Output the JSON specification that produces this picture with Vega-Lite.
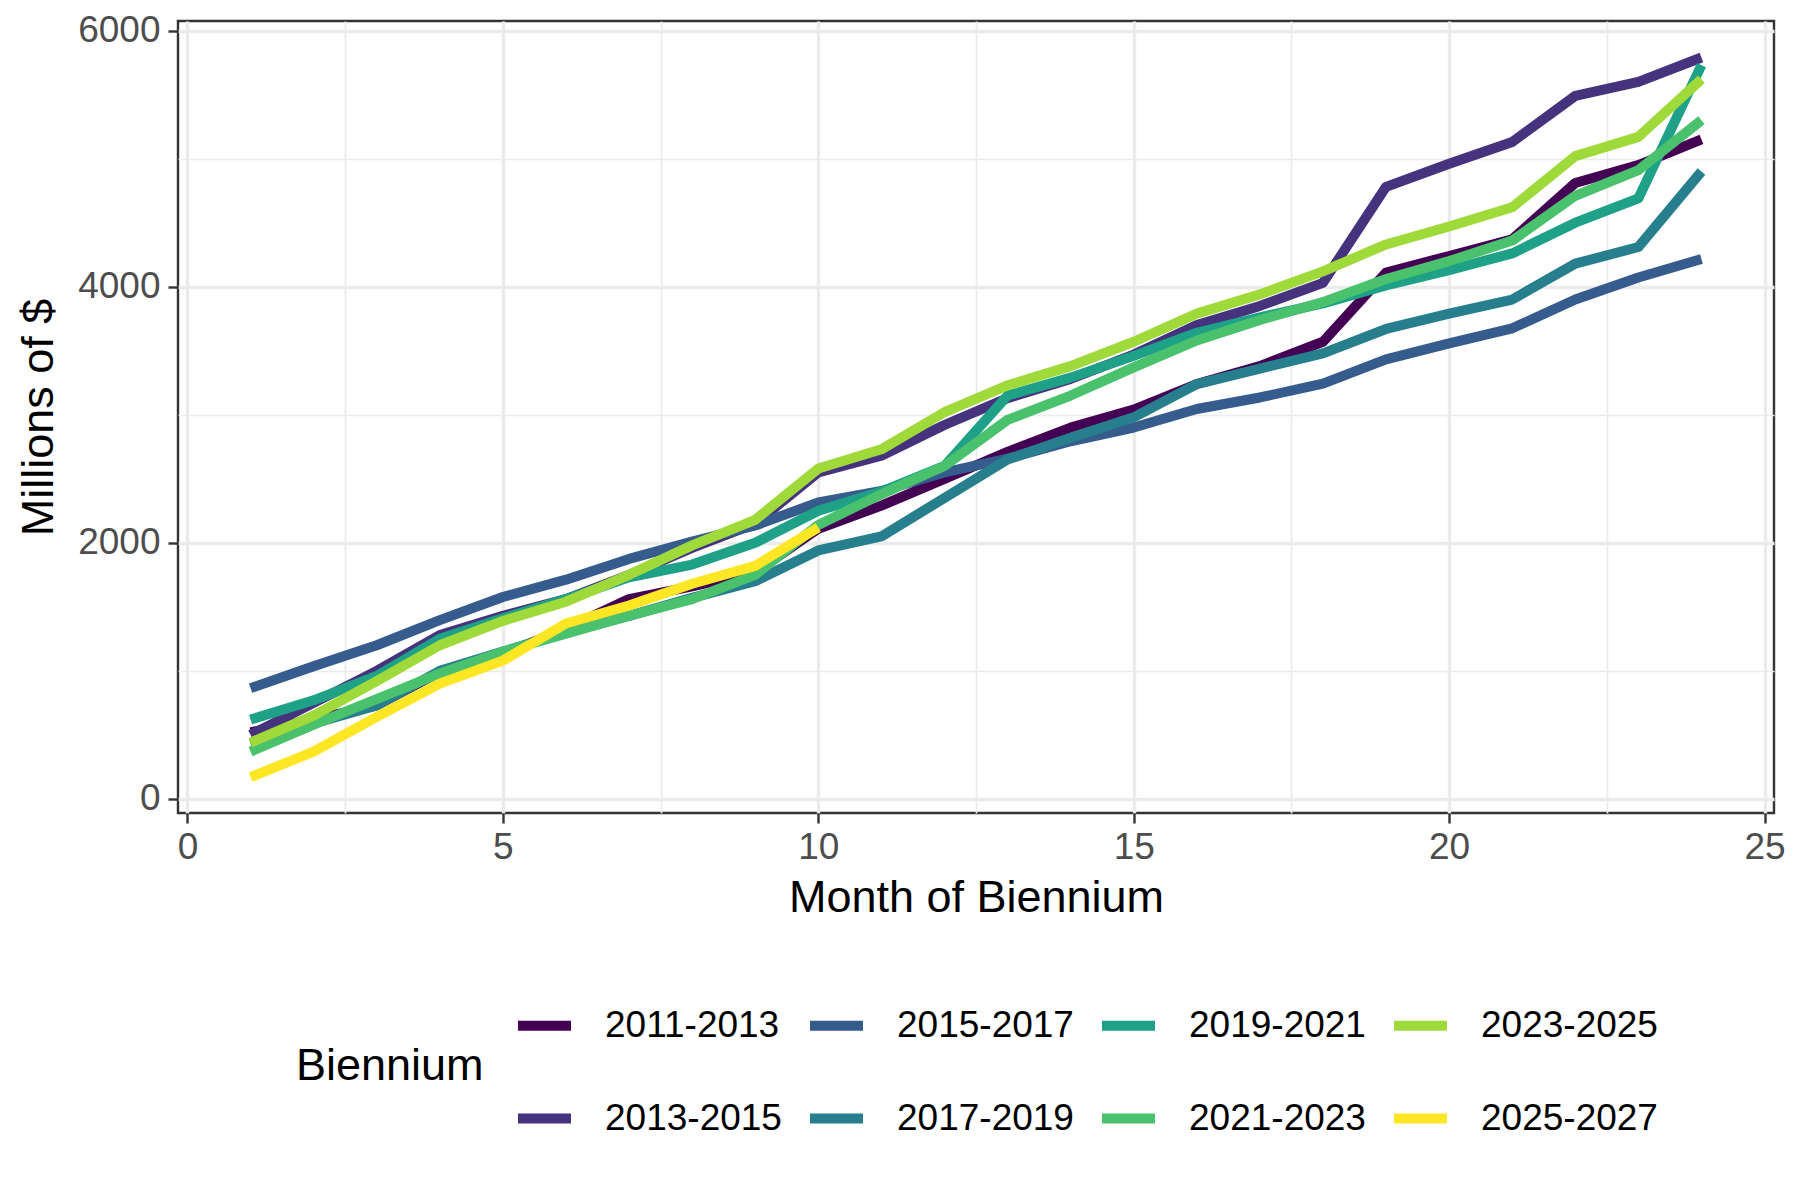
{
  "$schema": "https://vega.github.io/schema/vega-lite/v6.json",
  "width": 1596,
  "height": 792,
  "autosize": {"type": "none"},
  "padding": {"left": 178, "top": 21, "right": 26, "bottom": 387},
  "background": "white",
  "config": {
    "font": "Liberation Sans",
    "view": {"stroke": "#333333", "strokeWidth": 2.4},
    "axis": {
      "domain": false,
      "gridColor": "#EBEBEB",
      "tickColor": "#333333",
      "tickWidth": 2.4,
      "tickSize": 10,
      "labelColor": "#4D4D4D",
      "labelFontSize": 37,
      "titleFontSize": 45,
      "titleFontWeight": "normal",
      "titleColor": "black"
    }
  },
  "data": {
    "values": [
      {"month": 1, "Biennium": "2011-2013", "value": 520},
      {"month": 2, "Biennium": "2011-2013", "value": 620},
      {"month": 3, "Biennium": "2011-2013", "value": 730},
      {"month": 4, "Biennium": "2011-2013", "value": 990},
      {"month": 5, "Biennium": "2011-2013", "value": 1130},
      {"month": 6, "Biennium": "2011-2013", "value": 1330},
      {"month": 7, "Biennium": "2011-2013", "value": 1560},
      {"month": 8, "Biennium": "2011-2013", "value": 1660},
      {"month": 9, "Biennium": "2011-2013", "value": 1770},
      {"month": 10, "Biennium": "2011-2013", "value": 2110},
      {"month": 11, "Biennium": "2011-2013", "value": 2290},
      {"month": 12, "Biennium": "2011-2013", "value": 2500},
      {"month": 13, "Biennium": "2011-2013", "value": 2710},
      {"month": 14, "Biennium": "2011-2013", "value": 2900},
      {"month": 15, "Biennium": "2011-2013", "value": 3040},
      {"month": 16, "Biennium": "2011-2013", "value": 3240},
      {"month": 17, "Biennium": "2011-2013", "value": 3380},
      {"month": 18, "Biennium": "2011-2013", "value": 3570},
      {"month": 19, "Biennium": "2011-2013", "value": 4110},
      {"month": 20, "Biennium": "2011-2013", "value": 4240},
      {"month": 21, "Biennium": "2011-2013", "value": 4370},
      {"month": 22, "Biennium": "2011-2013", "value": 4810},
      {"month": 23, "Biennium": "2011-2013", "value": 4950},
      {"month": 24, "Biennium": "2011-2013", "value": 5150},
      {"month": 1, "Biennium": "2013-2015", "value": 500},
      {"month": 2, "Biennium": "2013-2015", "value": 750},
      {"month": 3, "Biennium": "2013-2015", "value": 1000},
      {"month": 4, "Biennium": "2013-2015", "value": 1280},
      {"month": 5, "Biennium": "2013-2015", "value": 1430},
      {"month": 6, "Biennium": "2013-2015", "value": 1560},
      {"month": 7, "Biennium": "2013-2015", "value": 1750},
      {"month": 8, "Biennium": "2013-2015", "value": 1960},
      {"month": 9, "Biennium": "2013-2015", "value": 2150},
      {"month": 10, "Biennium": "2013-2015", "value": 2550},
      {"month": 11, "Biennium": "2013-2015", "value": 2680},
      {"month": 12, "Biennium": "2013-2015", "value": 2920},
      {"month": 13, "Biennium": "2013-2015", "value": 3130},
      {"month": 14, "Biennium": "2013-2015", "value": 3280},
      {"month": 15, "Biennium": "2013-2015", "value": 3470},
      {"month": 16, "Biennium": "2013-2015", "value": 3700},
      {"month": 17, "Biennium": "2013-2015", "value": 3850},
      {"month": 18, "Biennium": "2013-2015", "value": 4030},
      {"month": 19, "Biennium": "2013-2015", "value": 4780},
      {"month": 20, "Biennium": "2013-2015", "value": 4960},
      {"month": 21, "Biennium": "2013-2015", "value": 5130},
      {"month": 22, "Biennium": "2013-2015", "value": 5490},
      {"month": 23, "Biennium": "2013-2015", "value": 5600},
      {"month": 24, "Biennium": "2013-2015", "value": 5790},
      {"month": 1, "Biennium": "2015-2017", "value": 865},
      {"month": 2, "Biennium": "2015-2017", "value": 1036},
      {"month": 3, "Biennium": "2015-2017", "value": 1200},
      {"month": 4, "Biennium": "2015-2017", "value": 1396},
      {"month": 5, "Biennium": "2015-2017", "value": 1577},
      {"month": 6, "Biennium": "2015-2017", "value": 1712},
      {"month": 7, "Biennium": "2015-2017", "value": 1874},
      {"month": 8, "Biennium": "2015-2017", "value": 2009},
      {"month": 9, "Biennium": "2015-2017", "value": 2135},
      {"month": 10, "Biennium": "2015-2017", "value": 2315},
      {"month": 11, "Biennium": "2015-2017", "value": 2405},
      {"month": 12, "Biennium": "2015-2017", "value": 2550},
      {"month": 13, "Biennium": "2015-2017", "value": 2658},
      {"month": 14, "Biennium": "2015-2017", "value": 2793},
      {"month": 15, "Biennium": "2015-2017", "value": 2900},
      {"month": 16, "Biennium": "2015-2017", "value": 3045},
      {"month": 17, "Biennium": "2015-2017", "value": 3135},
      {"month": 18, "Biennium": "2015-2017", "value": 3243},
      {"month": 19, "Biennium": "2015-2017", "value": 3432},
      {"month": 20, "Biennium": "2015-2017", "value": 3558},
      {"month": 21, "Biennium": "2015-2017", "value": 3675},
      {"month": 22, "Biennium": "2015-2017", "value": 3900},
      {"month": 23, "Biennium": "2015-2017", "value": 4072},
      {"month": 24, "Biennium": "2015-2017", "value": 4216},
      {"month": 1, "Biennium": "2017-2019", "value": 430},
      {"month": 2, "Biennium": "2017-2019", "value": 590},
      {"month": 3, "Biennium": "2017-2019", "value": 730},
      {"month": 4, "Biennium": "2017-2019", "value": 1000},
      {"month": 5, "Biennium": "2017-2019", "value": 1150},
      {"month": 6, "Biennium": "2017-2019", "value": 1300},
      {"month": 7, "Biennium": "2017-2019", "value": 1430},
      {"month": 8, "Biennium": "2017-2019", "value": 1570},
      {"month": 9, "Biennium": "2017-2019", "value": 1700},
      {"month": 10, "Biennium": "2017-2019", "value": 1940},
      {"month": 11, "Biennium": "2017-2019", "value": 2050},
      {"month": 12, "Biennium": "2017-2019", "value": 2350},
      {"month": 13, "Biennium": "2017-2019", "value": 2650},
      {"month": 14, "Biennium": "2017-2019", "value": 2820},
      {"month": 15, "Biennium": "2017-2019", "value": 2980},
      {"month": 16, "Biennium": "2017-2019", "value": 3240},
      {"month": 17, "Biennium": "2017-2019", "value": 3360},
      {"month": 18, "Biennium": "2017-2019", "value": 3480},
      {"month": 19, "Biennium": "2017-2019", "value": 3670},
      {"month": 20, "Biennium": "2017-2019", "value": 3790},
      {"month": 21, "Biennium": "2017-2019", "value": 3900},
      {"month": 22, "Biennium": "2017-2019", "value": 4180},
      {"month": 23, "Biennium": "2017-2019", "value": 4310},
      {"month": 24, "Biennium": "2017-2019", "value": 4900},
      {"month": 1, "Biennium": "2019-2021", "value": 620},
      {"month": 2, "Biennium": "2019-2021", "value": 770},
      {"month": 3, "Biennium": "2019-2021", "value": 960},
      {"month": 4, "Biennium": "2019-2021", "value": 1250},
      {"month": 5, "Biennium": "2019-2021", "value": 1410},
      {"month": 6, "Biennium": "2019-2021", "value": 1560},
      {"month": 7, "Biennium": "2019-2021", "value": 1730},
      {"month": 8, "Biennium": "2019-2021", "value": 1830},
      {"month": 9, "Biennium": "2019-2021", "value": 2000},
      {"month": 10, "Biennium": "2019-2021", "value": 2250},
      {"month": 11, "Biennium": "2019-2021", "value": 2400},
      {"month": 12, "Biennium": "2019-2021", "value": 2600},
      {"month": 13, "Biennium": "2019-2021", "value": 3150},
      {"month": 14, "Biennium": "2019-2021", "value": 3290},
      {"month": 15, "Biennium": "2019-2021", "value": 3460},
      {"month": 16, "Biennium": "2019-2021", "value": 3640},
      {"month": 17, "Biennium": "2019-2021", "value": 3760},
      {"month": 18, "Biennium": "2019-2021", "value": 3870},
      {"month": 19, "Biennium": "2019-2021", "value": 4010},
      {"month": 20, "Biennium": "2019-2021", "value": 4130},
      {"month": 21, "Biennium": "2019-2021", "value": 4260},
      {"month": 22, "Biennium": "2019-2021", "value": 4500},
      {"month": 23, "Biennium": "2019-2021", "value": 4690},
      {"month": 24, "Biennium": "2019-2021", "value": 5730},
      {"month": 1, "Biennium": "2021-2023", "value": 370},
      {"month": 2, "Biennium": "2021-2023", "value": 580},
      {"month": 3, "Biennium": "2021-2023", "value": 780},
      {"month": 4, "Biennium": "2021-2023", "value": 980},
      {"month": 5, "Biennium": "2021-2023", "value": 1150},
      {"month": 6, "Biennium": "2021-2023", "value": 1290},
      {"month": 7, "Biennium": "2021-2023", "value": 1430},
      {"month": 8, "Biennium": "2021-2023", "value": 1560},
      {"month": 9, "Biennium": "2021-2023", "value": 1750},
      {"month": 10, "Biennium": "2021-2023", "value": 2140},
      {"month": 11, "Biennium": "2021-2023", "value": 2380},
      {"month": 12, "Biennium": "2021-2023", "value": 2600},
      {"month": 13, "Biennium": "2021-2023", "value": 2960},
      {"month": 14, "Biennium": "2021-2023", "value": 3150},
      {"month": 15, "Biennium": "2021-2023", "value": 3370},
      {"month": 16, "Biennium": "2021-2023", "value": 3580},
      {"month": 17, "Biennium": "2021-2023", "value": 3740},
      {"month": 18, "Biennium": "2021-2023", "value": 3880},
      {"month": 19, "Biennium": "2021-2023", "value": 4060},
      {"month": 20, "Biennium": "2021-2023", "value": 4200},
      {"month": 21, "Biennium": "2021-2023", "value": 4360},
      {"month": 22, "Biennium": "2021-2023", "value": 4710},
      {"month": 23, "Biennium": "2021-2023", "value": 4910},
      {"month": 24, "Biennium": "2021-2023", "value": 5300},
      {"month": 1, "Biennium": "2023-2025", "value": 440},
      {"month": 2, "Biennium": "2023-2025", "value": 650},
      {"month": 3, "Biennium": "2023-2025", "value": 920},
      {"month": 4, "Biennium": "2023-2025", "value": 1200},
      {"month": 5, "Biennium": "2023-2025", "value": 1390},
      {"month": 6, "Biennium": "2023-2025", "value": 1540},
      {"month": 7, "Biennium": "2023-2025", "value": 1750},
      {"month": 8, "Biennium": "2023-2025", "value": 1980},
      {"month": 9, "Biennium": "2023-2025", "value": 2180},
      {"month": 10, "Biennium": "2023-2025", "value": 2580},
      {"month": 11, "Biennium": "2023-2025", "value": 2730},
      {"month": 12, "Biennium": "2023-2025", "value": 3020},
      {"month": 13, "Biennium": "2023-2025", "value": 3230},
      {"month": 14, "Biennium": "2023-2025", "value": 3380},
      {"month": 15, "Biennium": "2023-2025", "value": 3570},
      {"month": 16, "Biennium": "2023-2025", "value": 3790},
      {"month": 17, "Biennium": "2023-2025", "value": 3940},
      {"month": 18, "Biennium": "2023-2025", "value": 4120},
      {"month": 19, "Biennium": "2023-2025", "value": 4330},
      {"month": 20, "Biennium": "2023-2025", "value": 4470},
      {"month": 21, "Biennium": "2023-2025", "value": 4620},
      {"month": 22, "Biennium": "2023-2025", "value": 5020},
      {"month": 23, "Biennium": "2023-2025", "value": 5170},
      {"month": 24, "Biennium": "2023-2025", "value": 5620},
      {"month": 1, "Biennium": "2025-2027", "value": 170},
      {"month": 2, "Biennium": "2025-2027", "value": 370},
      {"month": 3, "Biennium": "2025-2027", "value": 640},
      {"month": 4, "Biennium": "2025-2027", "value": 900},
      {"month": 5, "Biennium": "2025-2027", "value": 1080},
      {"month": 6, "Biennium": "2025-2027", "value": 1370},
      {"month": 7, "Biennium": "2025-2027", "value": 1510},
      {"month": 8, "Biennium": "2025-2027", "value": 1680},
      {"month": 9, "Biennium": "2025-2027", "value": 1820},
      {"month": 10, "Biennium": "2025-2027", "value": 2120}
    ]
  },
  "mark": {"type": "line", "strokeWidth": 10, "strokeJoin": "round", "clip": true},
  "encoding": {
    "x": {
      "field": "month",
      "type": "quantitative",
      "title": "Month of Biennium",
      "scale": {"domain": [-0.15, 25.15], "nice": false, "zero": false},
      "axis": {
        "values": [0, 2.5, 5, 7.5, 10, 12.5, 15, 17.5, 20, 22.5, 25],
        "labelExpr": "datum.value % 5 === 0 ? datum.label : ''",
        "gridWidth": {"condition": {"test": "datum.value % 5 === 0", "value": 3.4}, "value": 1.7},
        "tickOpacity": {"condition": {"test": "datum.value % 5 === 0", "value": 1}, "value": 0},
        "labelPadding": 6,
        "titlePadding": 10
      }
    },
    "y": {
      "field": "value",
      "type": "quantitative",
      "title": "Millions of $",
      "scale": {"domain": [-110, 6075], "nice": false, "zero": false},
      "axis": {
        "values": [0, 1000, 2000, 3000, 4000, 5000, 6000],
        "labelExpr": "datum.value % 2000 === 0 ? datum.label : ''",
        "format": "d",
        "gridWidth": {"condition": {"test": "datum.value % 2000 === 0", "value": 3.4}, "value": 1.7},
        "tickOpacity": {"condition": {"test": "datum.value % 2000 === 0", "value": 1}, "value": 0},
        "labelPadding": 8,
        "titlePadding": 16
      }
    },
    "color": {
      "field": "Biennium",
      "type": "nominal",
      "title": "Biennium",
      "scale": {
        "domain": ["2011-2013", "2015-2017", "2019-2021", "2023-2025", "2013-2015", "2017-2019", "2021-2023", "2025-2027"],
        "range": ["#440154", "#365C8D", "#1FA187", "#9FDA3A", "#46337E", "#277F8E", "#4AC16D", "#FDE725"]
      },
      "legend": {
        "orient": "none",
        "legendX": 118,
        "legendY": 973,
        "direction": "horizontal",
        "columns": 4,
        "titleOrient": "left",
        "titleAnchor": "middle",
        "titleBaseline": "middle",
        "titleFontSize": 45,
        "titleFontWeight": "normal",
        "titleColor": "black",
        "titlePadding": 29,
        "titleLimit": 400,
        "labelFontSize": 37,
        "labelColor": "black",
        "labelOffset": 29,
        "labelLimit": 400,
        "symbolType": "stroke",
        "symbolSize": 2809,
        "symbolStrokeWidth": 10,
        "columnPadding": 8,
        "rowPadding": 41
      }
    }
  }
}
